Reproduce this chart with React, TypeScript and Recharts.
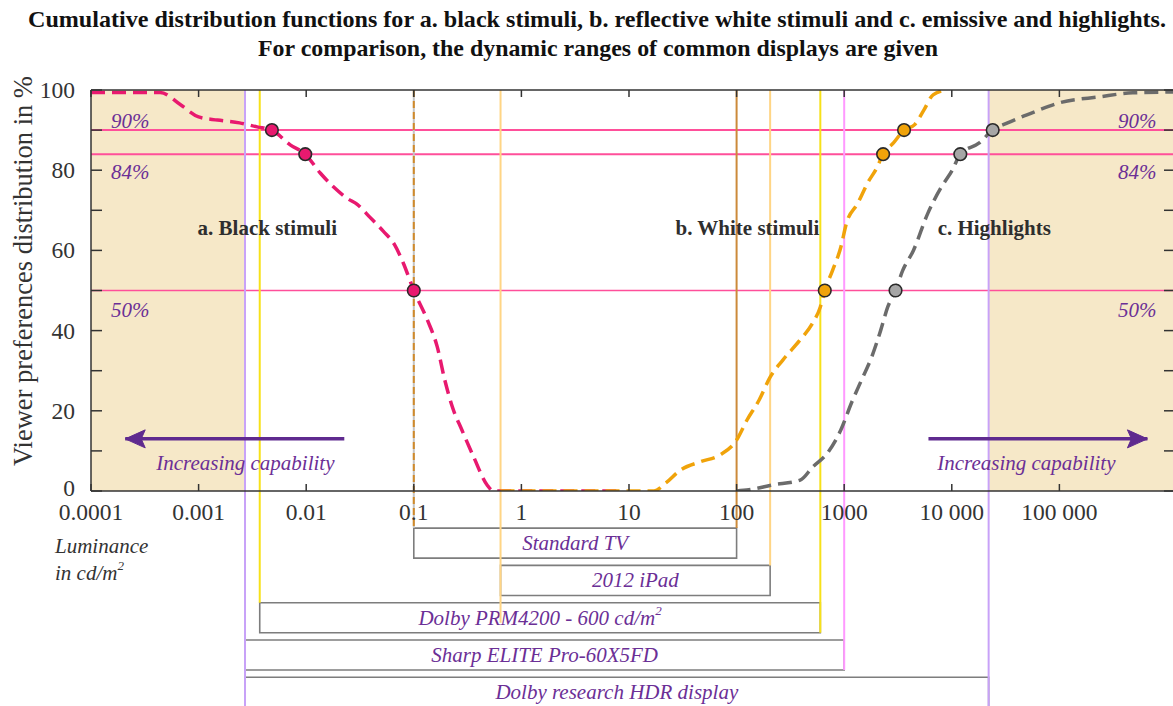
import React from 'react';
import { ComposedChart, Line, XAxis, YAxis, ReferenceArea, ReferenceLine, Scatter } from 'recharts';

// ---------- data ----------
const xTicks = [0.0001, 0.001, 0.01, 0.1, 1, 10, 100, 1000, 10000, 100000];
const xTickLabels = ['0.0001', '0.001', '0.01', '0.1', '1', '10', '100', '1000', '10 000', '100 000'];
const yTicks = [0, 10, 20, 30, 40, 50, 60, 70, 80, 90, 100];
const yTickLabels = ['0', '', '20', '', '40', '', '60', '', '80', '', '100'];

const X_MIN = 0.0001;
const X_MAX = 1.187e6;

const blackStimuli = [
  { x: 0.0001, y: 99.4 }, { x: 0.00044, y: 99.4 }, { x: 0.00068, y: 96.3 }, { x: 0.001, y: 93.3 },
  { x: 0.0015, y: 92.5 }, { x: 0.0024, y: 91.8 }, { x: 0.0035, y: 90.8 }, { x: 0.0048, y: 90 },
  { x: 0.0071, y: 86.3 }, { x: 0.0098, y: 84 }, { x: 0.0135, y: 79.3 }, { x: 0.018, y: 75.8 },
  { x: 0.024, y: 73 }, { x: 0.03, y: 71.4 }, { x: 0.039, y: 68.3 }, { x: 0.052, y: 64.8 },
  { x: 0.066, y: 61.5 }, { x: 0.08, y: 56.8 }, { x: 0.1, y: 50 }, { x: 0.134, y: 42.6 },
  { x: 0.165, y: 36 }, { x: 0.194, y: 27.7 }, { x: 0.228, y: 21 }, { x: 0.28, y: 15.2 },
  { x: 0.36, y: 8.5 }, { x: 0.48, y: 1.5 }, { x: 0.55, y: 0 }, { x: 8.3, y: 0 },
];

const whiteStimuli = [
  { x: 0.64, y: 0 }, { x: 17, y: 0 }, { x: 22, y: 2 }, { x: 30, y: 5.2 }, { x: 46, y: 7.3 },
  { x: 70, y: 9 }, { x: 100, y: 12.7 }, { x: 125, y: 17.7 }, { x: 162, y: 22.7 }, { x: 205, y: 28.4 },
  { x: 270, y: 32.7 }, { x: 390, y: 37.7 }, { x: 510, y: 41.9 }, { x: 600, y: 45.9 }, { x: 660, y: 50 },
  { x: 780, y: 55 }, { x: 930, y: 60.8 }, { x: 1050, y: 66.8 }, { x: 1340, y: 71.8 }, { x: 1650, y: 76.8 },
  { x: 2000, y: 80.5 }, { x: 2300, y: 84 }, { x: 2870, y: 86.8 }, { x: 3600, y: 90 }, { x: 4500, y: 91.3 },
  { x: 5500, y: 95 }, { x: 6700, y: 98.8 }, { x: 9000, y: 100 },
];

const highlights = [
  { x: 100, y: 0 }, { x: 130, y: 0.3 }, { x: 215, y: 1.5 }, { x: 390, y: 2.7 }, { x: 510, y: 6 },
  { x: 700, y: 9.5 }, { x: 930, y: 15.2 }, { x: 1170, y: 22 }, { x: 1450, y: 27.7 }, { x: 1800, y: 33.4 },
  { x: 2180, y: 40 }, { x: 2540, y: 45.9 }, { x: 3000, y: 50 }, { x: 3500, y: 55 }, { x: 4400, y: 60 },
  { x: 6000, y: 69.3 }, { x: 8000, y: 75.8 }, { x: 10100, y: 80 }, { x: 12000, y: 84 }, { x: 18000, y: 86.8 },
  { x: 24000, y: 90 }, { x: 33000, y: 91.8 }, { x: 58000, y: 94.5 }, { x: 100000, y: 96.8 },
  { x: 236000, y: 98.3 }, { x: 480000, y: 99.3 }, { x: 1187000, y: 99.5 },
];

const blackMarkers = [{ x: 0.0048, y: 90 }, { x: 0.0098, y: 84 }, { x: 0.1, y: 50 }];
const whiteMarkers = [{ x: 660, y: 50 }, { x: 2300, y: 84 }, { x: 3600, y: 90 }];
const highlightMarkers = [{ x: 3000, y: 50 }, { x: 12000, y: 84 }, { x: 24000, y: 90 }];

const percentLevels = [90, 84, 50];

// displays: luminance range [min, max] in cd/m2
const displays = [
  { name: 'Standard TV', sup: '', min: 0.1, max: 100 },
  { name: '2012 iPad', sup: '', min: 0.64, max: 205 },
  { name: 'Dolby PRM4200 - 600 cd/m', sup: '2', min: 0.0037, max: 600 },
  { name: 'Sharp ELITE Pro-60X5FD', sup: '', min: 0.0027, max: 1000 },
  { name: 'Dolby research HDR display', sup: '', min: 0.0027, max: 22000 },
];

const capabilityLimits = [0.0027, 22000];

const stimulusLabels = [
  { x: 0.00435, y: 65.6, text: 'a. Black stimuli' },
  { x: 126, y: 65.6, text: 'b. White stimuli' },
  { x: 24800, y: 65.6, text: 'c. Highlights' },
];

const percentLabels = [
  { x: 0.000232, y: 92.3, text: '90%' }, { x: 0.000232, y: 79.6, text: '84%' }, { x: 0.000232, y: 45.3, text: '50%' },
  { x: 530000, y: 92.3, text: '90%' }, { x: 530000, y: 79.6, text: '84%' }, { x: 530000, y: 45.3, text: '50%' },
];

const capabilityLabels = [
  { x: 0.00272, y: 7.0, text: 'Increasing capability' },
  { x: 49300, y: 7.0, text: 'Increasing capability' },
];

const leftArrow = [{ x: 0.0226, y: 13 }, { x: 0.000208, y: 13 }];
const rightArrow = [{ x: 6070, y: 13 }, { x: 658000, y: 13 }];

// ---------- styling ----------
const SERIF = "'Liberation Serif', 'DejaVu Serif', 'Times New Roman', serif";
const AX = '#333333';
const PURPLE_TEXT = '#6b2f96';
const ARROW = '#5f2a8f';
const PINK = '#e8196f';
const PINK_LINE = '#ff4f9a';
const ORANGE = '#f0a30a';
const GRAY = '#6b6b6b';
const SHADE = '#f6e8c8';

// rows for display boxes (below plot), in y-units of the value axis
const ROW_TOP = -9.25;
const ROW_PITCH = 9.3;
const ROW_H = 7.5;
const rowTop = (i: number) => ROW_TOP - i * ROW_PITCH;
const rowBottom = (i: number) => rowTop(i) - ROW_H;

const tickIndex = (v: number) => {
  let best = 0;
  let bd = Infinity;
  xTicks.forEach((t, i) => {
    const d = Math.abs(Math.log10(t) - Math.log10(v));
    if (d < bd) { bd = d; best = i; }
  });
  return best;
};

const BottomTick = (p: any) => {
  const { x, y, payload } = p;
  return (
    <g>
      <line x1={x} y1={y} x2={x} y2={y - 7} stroke={AX} strokeWidth={1.5} />
      <text x={x} y={y + 29} textAnchor="middle" fontFamily={SERIF} fontSize={23.5} fill="#333">
        {xTickLabels[tickIndex(payload.value)]}
      </text>
    </g>
  );
};
const TopTick = (p: any) => {
  const { x, y } = p;
  return <line x1={x} y1={y} x2={x} y2={y + 7} stroke={AX} strokeWidth={1.5} />;
};
const LeftTick = (p: any) => {
  const { x, y, payload } = p;
  const i = yTicks.indexOf(payload.value);
  const dy = payload.value === 0 ? 5 : 8;
  return (
    <g>
      <line x1={x} y1={y} x2={x + 11} y2={y} stroke={AX} strokeWidth={1.5} />
      <text x={x - 16} y={y + dy} textAnchor="end" fontFamily={SERIF} fontSize={23.5} fill="#333">
        {yTickLabels[i] ?? ''}
      </text>
    </g>
  );
};
const RightTick = (p: any) => {
  const { x, y } = p;
  return <line x1={x} y1={y} x2={x - 11} y2={y} stroke={AX} strokeWidth={1.5} />;
};

const BoxLabel = (props: any) => {
  const { viewBox, text, sup } = props;
  if (!viewBox) return null;
  const { x, y, width, height } = viewBox;
  return (
    <text x={x + width / 2} y={y + height / 2 + 7} textAnchor="middle" fontFamily={SERIF} fontStyle="italic" fontSize={21} fill={PURPLE_TEXT}>
      {text}
      {sup ? <tspan dy={-10} fontSize={13}>{sup}</tspan> : null}
    </text>
  );
};

const markerShape = (fill: string) => (p: any) => (
  <circle cx={p.cx} cy={p.cy} r={6.3} fill={fill} stroke="#2a2a2a" strokeWidth={1.6} />
);

const textShape = (opts: { size: number; weight?: string; italic?: boolean; color: string }) => (p: any) => (
  <text
    x={p.cx}
    y={p.cy}
    dy="0.35em"
    textAnchor="middle"
    fontFamily={SERIF}
    fontSize={opts.size}
    fontWeight={opts.weight ?? 'normal'}
    fontStyle={opts.italic ? 'italic' : 'normal'}
    fill={opts.color}
  >
    {p.payload.text}
  </text>
);

const arrowDot = (dir: number) => (p: any) => {
  const { cx, cy, index } = p;
  if (index !== 1) return <g key={`a${index}`} />;
  const L = 20;
  const H = 9;
  const pts = `${cx},${cy} ${cx - dir * L},${cy - H} ${cx - dir * (L - 4)},${cy} ${cx - dir * L},${cy + H}`;
  return <polygon key={`a${index}`} points={pts} fill={ARROW} stroke={ARROW} strokeWidth={1} />;
};

type VLine = { x: number; to: number; color: string };
const vLines: VLine[] = [
  { x: capabilityLimits[0], to: -56, color: '#c8a2f8' },
  { x: capabilityLimits[1], to: -56, color: '#c8a2f8' },
  { x: displays[2].min, to: rowTop(2), color: '#f7e11a' },
  { x: displays[2].max, to: rowBottom(2), color: '#f7e11a' },
  { x: displays[1].min, to: rowTop(2) - 5, color: '#ffd585' },
  { x: displays[1].max, to: rowTop(1), color: '#ffd585' },
  { x: displays[0].max, to: rowTop(0), color: '#cc8a3a' },
  { x: displays[3].max, to: rowBottom(3), color: '#ff99ff' },
];

export default function App() {
  return (
    <div style={{ position: 'absolute', left: 0, top: 0, width: 1173, height: 706, overflow: 'hidden', background: '#fff' }}>
      <ComposedChart width={1180} height={706} margin={{ top: 89, right: 0, bottom: 155, left: 31 }}>
        <XAxis
          xAxisId="main"
          dataKey="x"
          type="number"
          scale="log"
          domain={[X_MIN, X_MAX]}
          allowDataOverflow
          ticks={xTicks}
          interval={0}
          tickLine={false}
          tickSize={0}
          tickMargin={0}
          height={60}
          axisLine={{ stroke: AX, strokeWidth: 1.5 }}
          tick={(p: any) => <BottomTick {...p} />}
        />
        <XAxis
          xAxisId="top"
          orientation="top"
          dataKey="x"
          type="number"
          scale="log"
          domain={[X_MIN, X_MAX]}
          allowDataOverflow
          ticks={xTicks}
          interval={0}
          tickLine={false}
          tickSize={0}
          tickMargin={0}
          height={1}
          axisLine={{ stroke: AX, strokeWidth: 1.5 }}
          tick={(p: any) => <TopTick {...p} />}
        />
        <YAxis
          yAxisId="left"
          dataKey="y"
          type="number"
          domain={[0, 100]}
          allowDataOverflow
          ticks={yTicks}
          interval={0}
          tickLine={false}
          tickSize={0}
          tickMargin={0}
          width={60}
          axisLine={{ stroke: AX, strokeWidth: 1.5 }}
          tick={(p: any) => <LeftTick {...p} />}
        />
        <YAxis
          yAxisId="right"
          orientation="right"
          dataKey="y"
          type="number"
          domain={[0, 100]}
          allowDataOverflow
          ticks={yTicks}
          interval={0}
          tickLine={false}
          tickSize={0}
          tickMargin={0}
          width={5}
          axisLine={{ stroke: AX, strokeWidth: 1.5 }}
          tick={(p: any) => <RightTick {...p} />}
        />

        {/* capability shading */}
        <ReferenceArea xAxisId="main" yAxisId="left" x1={X_MIN} x2={capabilityLimits[0]} y1={0} y2={100} fill={SHADE} fillOpacity={1} stroke="none" ifOverflow="hidden" />
        <ReferenceArea xAxisId="main" yAxisId="left" x1={capabilityLimits[1]} x2={X_MAX} y1={0} y2={100} fill={SHADE} fillOpacity={1} stroke="none" ifOverflow="hidden" />

        {/* percentile lines */}
        {percentLevels.map((lv) => (
          <ReferenceLine key={`h${lv}`} xAxisId="main" yAxisId="left" y={lv} stroke={PINK_LINE} strokeWidth={lv === 50 ? 1.6 : 2} />
        ))}

        {/* display range verticals */}
        <ReferenceLine
          xAxisId="main"
          yAxisId="left"
          segment={[{ x: displays[0].min, y: 100 }, { x: displays[0].min, y: rowTop(0) }]}
          stroke="#c4c4c4"
          strokeWidth={2}
          ifOverflow="visible"
        />
        <ReferenceLine
          xAxisId="main"
          yAxisId="left"
          segment={[{ x: displays[0].min, y: 100 }, { x: displays[0].min, y: rowTop(0) }]}
          stroke="#d08a2a"
          strokeWidth={2}
          strokeDasharray="7 4"
          ifOverflow="visible"
        />
        {vLines.map((v, i) => (
          <ReferenceLine
            key={`v${i}`}
            xAxisId="main"
            yAxisId="left"
            segment={[{ x: v.x, y: 100 }, { x: v.x, y: v.to }]}
            stroke={v.color}
            strokeWidth={2}
            ifOverflow="visible"
          />
        ))}

        {/* display boxes */}
        {displays.map((d, i) => (
          <ReferenceArea
            key={`d${i}`}
            xAxisId="main"
            yAxisId="left"
            x1={d.min}
            x2={d.max}
            y1={rowBottom(i)}
            y2={rowTop(i)}
            fill="#ffffff"
            fillOpacity={1}
            stroke="#7d7d7d"
            strokeWidth={1.6}
            ifOverflow="visible"
            label={<BoxLabel text={d.name} sup={d.sup} />}
          />
        ))}

        {/* arrows */}
        <Line xAxisId="main" yAxisId="left" data={leftArrow} dataKey="y" type="linear" stroke={ARROW} strokeWidth={3.5} dot={arrowDot(-1)} activeDot={false} isAnimationActive={false} />
        <Line xAxisId="main" yAxisId="left" data={rightArrow} dataKey="y" type="linear" stroke={ARROW} strokeWidth={3.5} dot={arrowDot(1)} activeDot={false} isAnimationActive={false} />

        {/* CDF curves */}
        <Line xAxisId="main" yAxisId="left" data={blackStimuli} dataKey="y" type="monotone" stroke={PINK} strokeWidth={3.5} strokeDasharray="14 7" dot={false} activeDot={false} isAnimationActive={false} />
        <Line xAxisId="main" yAxisId="left" data={whiteStimuli} dataKey="y" type="monotone" stroke={ORANGE} strokeWidth={3.5} strokeDasharray="14 7" dot={false} activeDot={false} isAnimationActive={false} />
        <Line xAxisId="main" yAxisId="left" data={highlights} dataKey="y" type="monotone" stroke={GRAY} strokeWidth={3.5} strokeDasharray="14 7" dot={false} activeDot={false} isAnimationActive={false} />

        {/* markers */}
        <Scatter xAxisId="main" yAxisId="left" data={blackMarkers} dataKey="y" shape={markerShape(PINK)} isAnimationActive={false} />
        <Scatter xAxisId="main" yAxisId="left" data={whiteMarkers} dataKey="y" shape={markerShape(ORANGE)} isAnimationActive={false} />
        <Scatter xAxisId="main" yAxisId="left" data={highlightMarkers} dataKey="y" shape={markerShape('#a6a6a6')} isAnimationActive={false} />

        {/* annotations */}
        <Scatter xAxisId="main" yAxisId="left" data={stimulusLabels} dataKey="y" shape={textShape({ size: 21, weight: 'bold', color: '#2e2e2e' })} isAnimationActive={false} />
        <Scatter xAxisId="main" yAxisId="left" data={percentLabels} dataKey="y" shape={textShape({ size: 21, italic: true, color: PURPLE_TEXT })} isAnimationActive={false} />
        <Scatter xAxisId="main" yAxisId="left" data={capabilityLabels} dataKey="y" shape={textShape({ size: 21, italic: true, color: PURPLE_TEXT })} isAnimationActive={false} />
      </ComposedChart>

      <svg width={1173} height={706} style={{ position: 'absolute', left: 0, top: 0, pointerEvents: 'none' }}>
        <text x={597} y={27} textAnchor="middle" fontFamily={SERIF} fontWeight="bold" fontSize={24} fill="#111" textLength={1138} lengthAdjust="spacingAndGlyphs">
          Cumulative distribution functions for a. black stimuli, b. reflective white stimuli and c. emissive and highlights.
        </text>
        <text x={598} y={56} textAnchor="middle" fontFamily={SERIF} fontWeight="bold" fontSize={24} fill="#111" textLength={680} lengthAdjust="spacingAndGlyphs">
          For comparison, the dynamic ranges of common displays are given
        </text>
        <text x={32} y={271} transform="rotate(-90 32 271)" textAnchor="middle" fontFamily={SERIF} fontSize={26.5} fill="#333">
          Viewer preferences distribution in %
        </text>
        <text x={55} y={553} fontFamily={SERIF} fontStyle="italic" fontSize={21} fill="#333">Luminance</text>
        <text x={55} y={580} fontFamily={SERIF} fontStyle="italic" fontSize={21} fill="#333">
          in cd/m<tspan dy={-10} fontSize={13}>2</tspan>
        </text>
      </svg>
    </div>
  );
}
